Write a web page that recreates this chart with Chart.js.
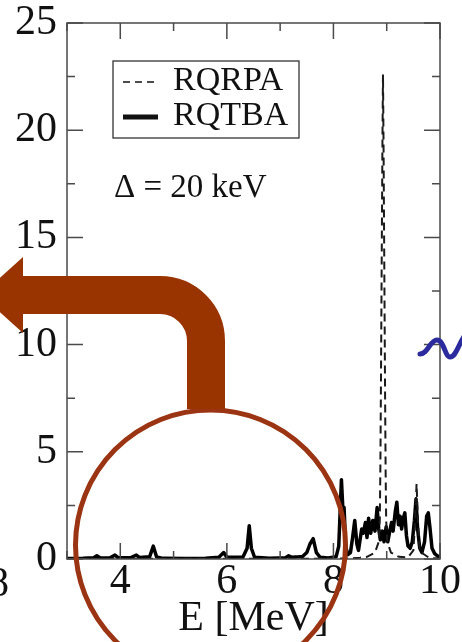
<!DOCTYPE html>
<html>
<head>
<meta charset="utf-8">
<script src="https://cdn.jsdelivr.net/npm/chart.js@4.4.0/dist/chart.umd.min.js"></script>
<style>
html,body{margin:0;padding:0;background:#fff;}
#wrap{width:462px;height:642px;position:relative;}
</style>
</head>
<body>
<div id="wrap"><canvas id="c" width="462" height="642"></canvas></div>
<script>
// ---- data ----
const rqtbaE = [3.0,3.3,3.5,3.56,3.62,3.8,3.9,3.96,4.2,4.3,4.36,4.55,4.62,4.68,4.8,5.2,5.6,5.85,5.94,6.0,6.3,6.38,6.42,6.46,6.52,6.8,7.1,7.16,7.22,7.35,7.42,7.5,7.56,7.62,7.68,7.75,7.9,8.05,8.1,8.15,8.18,8.2,8.23,8.27,8.32,8.36,8.4,8.44,8.47,8.5,8.53,8.56,8.6,8.63,8.66,8.7,8.74,8.78,8.82,8.85,8.88,8.92,8.95,8.99,9.02,9.05,9.09,9.12,9.16,9.19,9.22,9.25,9.28,9.31,9.34,9.37,9.4,9.44,9.48,9.52,9.55,9.58,9.62,9.66,9.71,9.75,9.78,9.81,9.85,9.9,9.95,10.0];
const rqtbaS = [0.02,0.03,0.06,0.15,0.06,0.05,0.18,0.06,0.07,0.18,0.07,0.1,0.6,0.1,0.03,0.02,0.04,0.08,0.3,0.08,0.08,0.5,1.55,0.5,0.08,0.04,0.06,0.15,0.08,0.1,0.12,0.3,0.7,0.95,0.3,0.08,0.05,0.1,0.6,3.7,2.2,2.4,0.6,0.2,0.3,1.0,1.8,0.7,0.4,0.9,1.4,1.2,1.7,1.0,1.9,1.2,1.8,1.3,2.4,1.4,0.9,1.3,0.8,1.5,0.8,1.2,1.7,1.3,2.2,2.65,1.6,2.0,1.4,1.9,2.15,1.1,0.6,0.5,0.8,1.8,2.8,1.4,0.5,0.3,0.8,2.0,2.15,1.5,0.5,0.25,0.15,0.1];
const rqrpaE = [3.0,8.3,8.5,8.63,8.78,8.85,8.87,8.88,8.89,8.9,8.91,8.92,8.93,8.94,8.95,8.96,8.97,8.98,8.99,9.01,9.08,9.23,9.4,9.5,9.53,9.56,9.59,9.62,9.8,10.0];
const rqrpaS = [0.0,0.02,0.06,0.1,0.3,0.8,1.8,4.0,7.5,11.5,15.5,19.5,22.6,19.5,15.5,11.5,7.5,4.0,1.8,0.8,0.3,0.1,0.08,0.4,1.6,3.5,1.6,0.35,0.05,0.02];
const seriesNames = ['RQRPA','RQTBA'];
const xTickValues = [3,4,5,6,7,8,9,10];
const xLabelValues = [4,6,8,10];
const yTickValues = [0,2.5,5,7.5,10,12.5,15,17.5,20,22.5,25];
const yLabelValues = [0,5,10,15,20,25];
const annotationText = 'Δ = 20 keV';
const xTitle = 'E [MeV]';

const SERIF = "'Liberation Serif','DejaVu Serif',serif";
const toPts = (xs, ys) => xs.map((x, i) => ({x: x, y: ys[i]}));

// ---- plugins ----
const framePlugin = {
  id: 'frame',
  afterDatasetsDraw(chart) {
    const {ctx, chartArea: a, scales: {x, y}} = chart;
    ctx.save();
    ctx.strokeStyle = '#4a4a4a';
    ctx.lineWidth = 1.5;
    ctx.strokeRect(a.left, a.top, a.right - a.left, a.bottom - a.top);
    ctx.beginPath();
    xTickValues.forEach(v => {
      const p = x.getPixelForValue(v);
      const len = v % 2 === 0 ? 16 : 8;
      ctx.moveTo(p, a.bottom); ctx.lineTo(p, a.bottom - len);
      ctx.moveTo(p, a.top); ctx.lineTo(p, a.top + len);
    });
    yTickValues.forEach(v => {
      const p = y.getPixelForValue(v);
      const len = v % 5 === 0 ? 16 : 8;
      ctx.moveTo(a.left, p); ctx.lineTo(a.left + len, p);
      ctx.moveTo(a.right, p); ctx.lineTo(a.right - len, p);
    });
    ctx.stroke();

    // legend box
    const ds = chart.data.datasets;
    const bx = 113, by = 61, bw = 186, bh = 77;
    ctx.fillStyle = '#fff';
    ctx.fillRect(bx, by, bw, bh);
    ctx.strokeStyle = '#333';
    ctx.lineWidth = 1.3;
    ctx.strokeRect(bx, by, bw, bh);
    ds.forEach((d, i) => {
      const ly = i === 0 ? 82 : 117;
      ctx.save();
      ctx.strokeStyle = '#111';
      ctx.lineWidth = i === 0 ? 1.4 : 5;
      ctx.setLineDash(i === 0 ? [7, 5] : []);
      ctx.beginPath();
      ctx.moveTo(123, ly); ctx.lineTo(158, ly);
      ctx.stroke();
      ctx.restore();
      ctx.fillStyle = '#111';
      ctx.font = '34px ' + SERIF;
      ctx.textAlign = 'left';
      ctx.textBaseline = 'alphabetic';
      ctx.fillText(d.label, 173, i === 0 ? 90 : 125);
    });
    ctx.fillStyle = '#111';
    ctx.font = '33px ' + SERIF;
    ctx.fillText(annotationText, 114, 197);
    ctx.restore();
  },
  afterDraw(chart) {
    const ctx = chart.ctx;
    ctx.save();
    // circle
    ctx.strokeStyle = '#9b3412';
    ctx.lineWidth = 5;
    ctx.beginPath();
    ctx.arc(210.5, 545, 135, 0, Math.PI * 2);
    ctx.stroke();
    // bent arrow
    ctx.strokeStyle = '#993300';
    ctx.fillStyle = '#993300';
    ctx.lineWidth = 38;
    ctx.lineCap = 'butt';
    ctx.beginPath();
    ctx.moveTo(20, 295);
    ctx.lineTo(160, 295);
    ctx.arc(160, 341, 46, -Math.PI / 2, 0);
    ctx.lineTo(206, 409);
    ctx.stroke();
    ctx.beginPath();
    ctx.moveTo(23, 257);
    ctx.lineTo(23, 333);
    ctx.lineTo(-19, 295);
    ctx.closePath();
    ctx.fill();
    // blue squiggle
    ctx.strokeStyle = '#2b2b9e';
    ctx.lineWidth = 5;
    ctx.lineCap = 'round';
    ctx.beginPath();
    ctx.moveTo(420, 354);
    ctx.bezierCurveTo(428, 354, 430, 340, 437, 340);
    ctx.bezierCurveTo(444, 340, 445, 357, 450, 357);
    ctx.bezierCurveTo(456, 357, 458, 345, 465, 335);
    ctx.stroke();
    // fragment of neighbouring panel label
    ctx.fillStyle = '#111';
    ctx.font = '42px ' + SERIF;
    ctx.textAlign = 'right';
    ctx.textBaseline = 'alphabetic';
    ctx.fillText('8', 9, 596);
    ctx.restore();
  }
};

new Chart(document.getElementById('c'), {
  type: 'line',
  data: {
    datasets: [
      {label: seriesNames[0], data: toPts(rqrpaE, rqrpaS), borderColor: '#1a1a1a', borderWidth: 2,
       borderDash: [8, 5], pointRadius: 0, tension: 0, fill: false},
      {label: seriesNames[1], data: toPts(rqtbaE, rqtbaS), borderColor: '#000', borderWidth: 3.5,
       pointRadius: 0, tension: 0, fill: false, borderJoinStyle: 'round'}
    ]
  },
  options: {
    responsive: false,
    animation: false,
    devicePixelRatio: 1,
    layout: {padding: {top: 23, right: 22, left: 0, bottom: 0}},
    plugins: {legend: {display: false}, tooltip: {enabled: false}},
    scales: {
      x: {
        type: 'linear', min: 3, max: 10,
        grid: {display: false, drawTicks: false},
        border: {display: false},
        ticks: {
          stepSize: 1, autoSkip: false, maxRotation: 0, padding: 2, color: '#111',
          font: {family: SERIF, size: 42, lineHeight: 1},
          callback: v => xLabelValues.includes(v) ? String(v) : ''
        },
        title: {display: true, text: xTitle, color: '#111', padding: {top: 0, bottom: 2},
          font: {family: SERIF, size: 42, lineHeight: 1}},
        afterFit: s => { s.height = 83; s.paddingLeft = 0; s.paddingRight = 0; }
      },
      y: {
        min: 0, max: 25,
        grid: {display: false, drawTicks: false},
        border: {display: false},
        ticks: {
          stepSize: 5, padding: 10, color: '#111',
          font: {family: SERIF, size: 42, lineHeight: 1},
          callback: v => yLabelValues.includes(v) ? String(v) : ''
        },
        afterFit: s => { s.width = 67; s.paddingTop = 0; s.paddingBottom = 0; }
      }
    }
  },
  plugins: [framePlugin]
});
</script>
</body>
</html>
